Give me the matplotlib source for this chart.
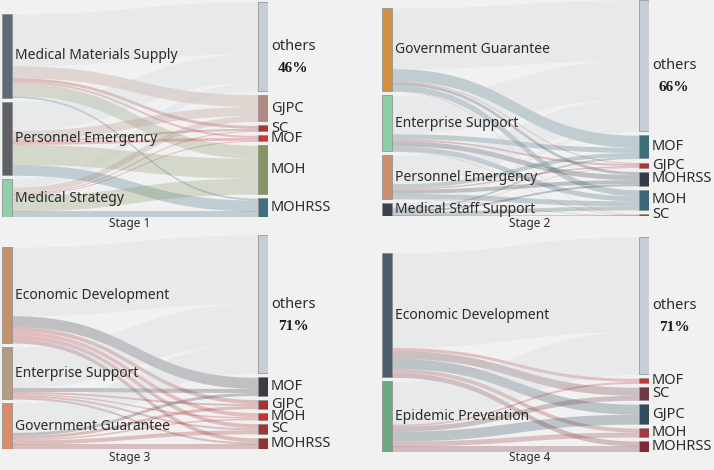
import matplotlib.pyplot as plt
from matplotlib.patches import Rectangle
import numpy as np

plt.rcParams['font.family'] = ['Noto Sans', 'DejaVu Sans']

# ---- data: flows from policy category (rows) to department (columns) ----
stage1_sources = ['Medical Materials Supply', 'Personnel Emergency', 'Medical Strategy']
stage1_targets = ['others', 'GJPC', 'SC', 'MOF', 'MOH', 'MOHRSS']
stage1_flows = [[52, 12, 3, 2, 13, 2],
                [29, 9, 2, 3, 20, 11],
                [8, 6, 1, 1, 16, 6]]
stage1_share = '46%'

stage2_sources = ['Government Guarantee', 'Enterprise Support', 'Personnel Emergency', 'Medical Staff Support']
stage2_targets = ['others', 'MOF', 'GJPC', 'MOHRSS', 'MOH', 'SC']
stage2_flows = [[60, 12, 1, 3, 6, 0.5],
                [38, 5, 2, 5, 5, 0.5],
                [28, 4, 1.5, 4, 5, 0.5],
                [4, 2, 0.5, 2, 4, 0.5]]
stage2_share = '66%'

stage3_sources = ['Economic Development', 'Enterprise Support', 'Government Guarantee']
stage3_targets = ['others', 'MOF', 'GJPC', 'MOH', 'SC', 'MOHRSS']
stage3_flows = [[68, 11, 4, 4, 4, 4],
                [40, 4, 2, 1.5, 2, 2],
                [29, 3, 3, 1.5, 4, 5]]
stage3_share = '71%'

stage4_sources = ['Economic Development', 'Epidemic Prevention']
stage4_targets = ['others', 'MOF', 'SC', 'GJPC', 'MOH', 'MOHRSS']
stage4_flows = [[95, 3, 8, 10, 4, 5],
                [43, 2, 5, 10, 5, 6]]
stage4_share = '71%'

# ---- colours ----
stage1_src_colors = ['#5b6a76', '#5e6065', '#90cfac']
stage1_tgt_colors = ['#c6cdd7', '#b08a7e', '#a8353a', '#c9363b', '#849563', '#3f6f80']
stage2_src_colors = ['#d0903f', '#8ccfa6', '#cc8f70', '#3e4050']
stage2_tgt_colors = ['#c6cdd7', '#3e6d7a', '#a8383c', '#343b49', '#3c6678', '#b33b3f']
stage3_src_colors = ['#c3926b', '#b39c82', '#da8b6b']
stage3_tgt_colors = ['#c6cdd7', '#3d3a43', '#a23434', '#c93131', '#a23636', '#963131']
stage4_src_colors = ['#4b5d6a', '#6ca983']
stage4_tgt_colors = ['#c6cdd7', '#c03b39', '#6b3b46', '#2f4b5d', '#a13b3f', '#7a2d36']

BG = '#f1f1f1'
GAP = 4.0
NODE_W = 0.038


def column_tops(totals, col_height):
    tops = []
    y = col_height
    for v in totals:
        tops.append(y)
        y -= v + GAP
    return np.array(tops)


def draw_sankey(ax, sources, targets, flows, src_colors, tgt_colors, share):
    flows = np.asarray(flows, dtype=float)
    src_tot = flows.sum(axis=1)
    tgt_tot = flows.sum(axis=0)
    h_left = src_tot.sum() + GAP * (len(sources) - 1)
    h_right = tgt_tot.sum() + GAP * (len(targets) - 1)
    height = max(h_left, h_right)
    src_top = column_tops(src_tot, h_left)
    tgt_top = column_tops(tgt_tot, h_right)

    # links as cubic bezier bands
    t = np.linspace(0, 1, 100)
    xs = 1.5 * t * (1 - t) ** 2 + 1.5 * t ** 2 * (1 - t) + t ** 3
    xs = NODE_W + (1 - 2 * NODE_W) * xs
    ease = 3 * t ** 2 * (1 - t) + t ** 3
    s_cur = src_top.copy()
    t_cur = tgt_top.copy()
    for i in range(len(sources)):
        for j in range(len(targets)):
            v = flows[i, j]
            y_top = s_cur[i] + (t_cur[j] - s_cur[i]) * ease
            y_bot = y_top - v
            alpha = 0.22 if j == 0 else 0.27
            ax.fill_between(xs, y_bot, y_top, color=tgt_colors[j], alpha=alpha, lw=0)
            s_cur[i] -= v
            t_cur[j] -= v

    # nodes and labels
    for i, name in enumerate(sources):
        v = src_tot[i]
        ax.add_patch(Rectangle((0, src_top[i] - v), NODE_W, v, fc=src_colors[i],
                               ec='#8a8a8a', lw=0.5))
        ax.annotate(name, (NODE_W, src_top[i] - v / 2), xytext=(3, 0),
                    textcoords='offset pixels', va='center', ha='left',
                    fontsize=10, color='#2b2b2b', annotation_clip=False)
    for j, name in enumerate(targets):
        v = tgt_tot[j]
        ax.add_patch(Rectangle((1 - NODE_W, tgt_top[j] - v), NODE_W, v, fc=tgt_colors[j],
                               ec='#8a8a8a', lw=0.5))
        ax.annotate(name, (1, tgt_top[j] - v / 2), xytext=(3, 0),
                    textcoords='offset pixels', va='center', ha='left',
                    fontsize=10.5, color='#2b2b2b', annotation_clip=False)
        if name == 'others':
            ax.annotate(share, (1, tgt_top[j] - v / 2), xytext=(25, -22),
                        textcoords='offset pixels', va='center', ha='center',
                        fontsize=11, fontweight='bold', family='Liberation Serif',
                        color='#1a1a1a', annotation_clip=False)

    ax.set_xlim(0, 1)
    ax.set_ylim(0, height)
    ax.axis('off')


W, H = 714, 470
fig = plt.figure(figsize=(W / 100, H / 100), dpi=100, facecolor=BG)


def panel(left, top, width, height):
    # box given in pixels from the top-left corner
    return fig.add_axes([left / W, 1 - (top + height) / H, width / W, height / H])


ax1 = panel(2, 2, 266, 215)
ax2 = panel(382, 0, 267, 216)
ax3 = panel(2, 235, 266, 214)
ax4 = panel(382, 237, 267, 215)

draw_sankey(ax1, stage1_sources, stage1_targets, stage1_flows,
            stage1_src_colors, stage1_tgt_colors, stage1_share)
draw_sankey(ax2, stage2_sources, stage2_targets, stage2_flows,
            stage2_src_colors, stage2_tgt_colors, stage2_share)
draw_sankey(ax3, stage3_sources, stage3_targets, stage3_flows,
            stage3_src_colors, stage3_tgt_colors, stage3_share)
draw_sankey(ax4, stage4_sources, stage4_targets, stage4_flows,
            stage4_src_colors, stage4_tgt_colors, stage4_share)

for label, x, y in [('Stage 1', 130, 224), ('Stage 2', 530, 224),
                    ('Stage 3', 130, 457), ('Stage 4', 530, 457)]:
    fig.text(x / W, 1 - y / H, label, ha='center', va='center', fontsize=8.5, color='#2b2b2b')

fig.savefig('out.png', dpi=100, facecolor=BG)
